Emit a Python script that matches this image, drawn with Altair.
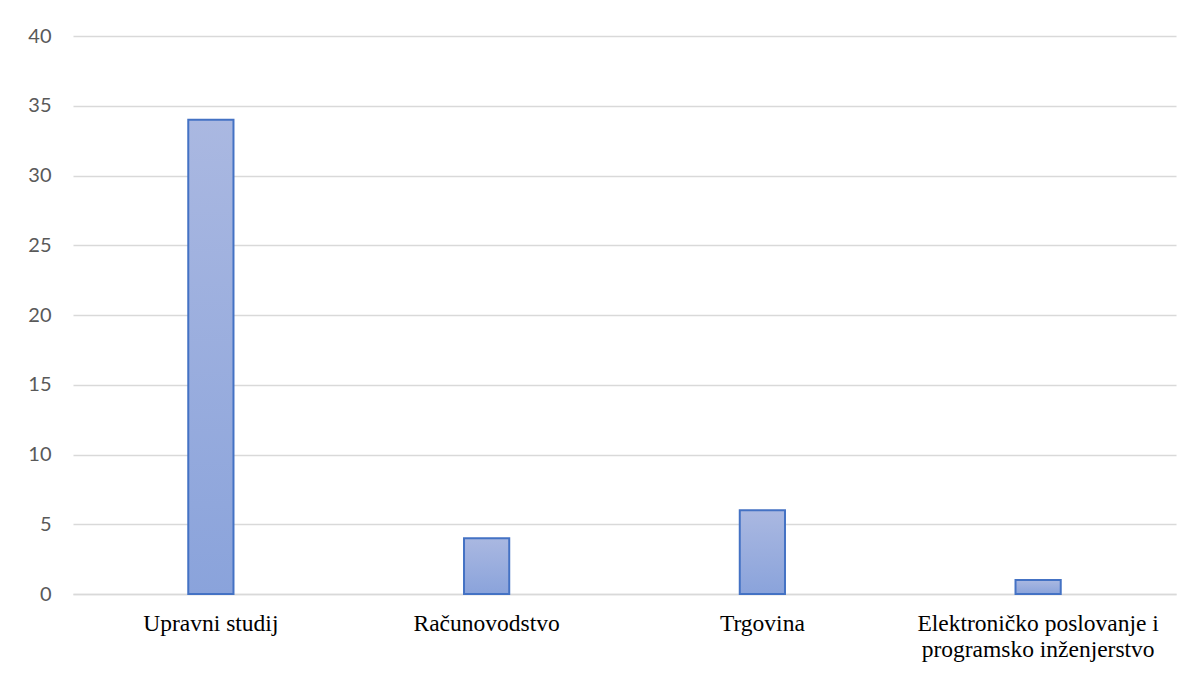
import altair as alt
import pandas as pd

categories = ["Upravni studij", "Računovodstvo", "Trgovina",
              "Elektroničko poslovanje i programsko inženjerstvo"]
values = [34, 4, 6, 1]

df = pd.DataFrame({"cat": categories, "val": values})

grad = alt.Gradient(
    gradient="linear",
    stops=[alt.GradientStop(color="#aab8e1", offset=0),
           alt.GradientStop(color="#8aa3db", offset=1)],
    x1=0, x2=0, y1=0, y2=1,
)

label_expr = ("datum.label == 'Elektroničko poslovanje i programsko inženjerstvo' "
              "? ['Elektroničko poslovanje i', 'programsko inženjerstvo'] : datum.label")

bars = alt.Chart(df).mark_bar(
    color=grad, stroke="#4472c4", strokeWidth=2
).encode(
    x=alt.X("cat:N", sort=categories, title=None,
            scale=alt.Scale(paddingInner=0.836, paddingOuter=0.418),
            axis=alt.Axis(labelAngle=0, labelFont="Liberation Serif, Times New Roman, serif",
                          labelFontSize=23.5, grid=False,
                          labelColor="#000000", labelExpr=label_expr, labelLineHeight=26,
                          labelBaseline="top", labelPadding=17, ticks=False,
                          domain=True, domainColor="#d9d9d9", domainWidth=1.5,
                          labelLimit=400)),
    y=alt.Y("val:Q", title=None,
            scale=alt.Scale(domain=[0, 40], nice=False),
            axis=alt.Axis(values=[0, 5, 10, 15, 20, 25, 30, 35, 40], ticks=False, domain=False,
                          labelFont="Lato", labelFontSize=20, labelColor="#595959",
                          labelPadding=22, gridColor="#d9d9d9", gridWidth=1.5)),
)

chart = bars.properties(
    width=1103, height=558,
    background="white",
    autosize=alt.AutoSizeParams(type="none"),
    padding={"left": 65, "top": 28, "right": 16, "bottom": 80},
).configure(view=alt.ViewConfig(stroke=None))

chart.save("out.html", embed_options={"renderer": "svg", "actions": False})
